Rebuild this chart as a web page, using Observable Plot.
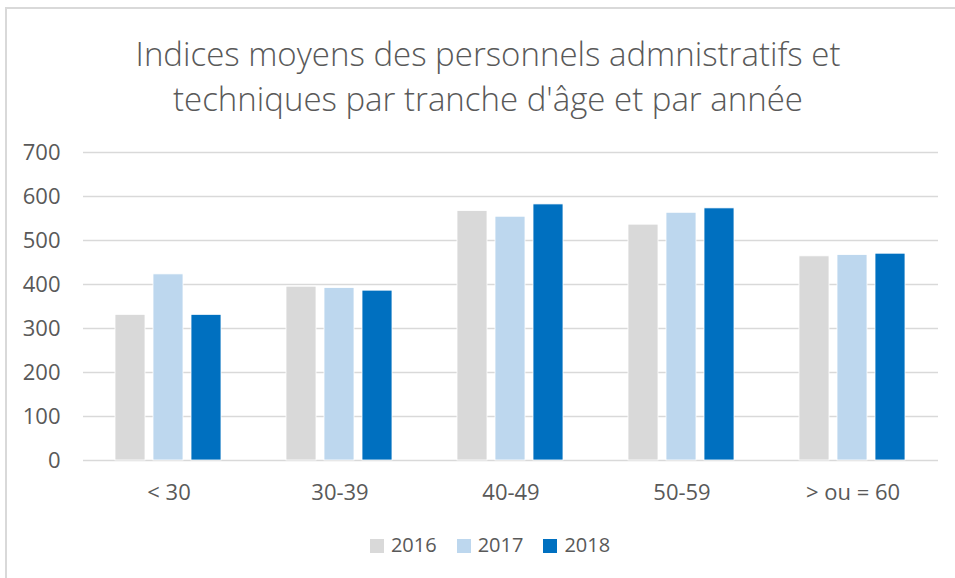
<!DOCTYPE html>
<html>
<head>
<meta charset="utf-8">
<script src="https://cdn.jsdelivr.net/npm/d3@7"></script>
<script src="https://cdn.jsdelivr.net/npm/@observablehq/plot@0.6"></script>
<style>
  html, body { margin: 0; padding: 0; background: #fff; }
  #frame { position: relative; width: 955px; height: 578px; overflow: hidden; font-family: "Open Sans", sans-serif; color: #595959; }
  #border { position: absolute; left: 5px; top: 7px; width: 960px; height: 600px; border-left: 2px solid #D9D9D9; border-top: 2px solid #D9D9D9; box-sizing: border-box; }
  #title { position: absolute; left: 0; width: 976px; top: 31px; text-align: center; font-size: 33px; font-weight: 300; line-height: 45px; color: #595959; }
  #chart { position: absolute; left: 0; top: 130px; }
  #chart svg text { font-family: "Open Sans", sans-serif !important; font-size: 22px !important; fill: #595959; }
  #legend { position: absolute; top: 531px; left: 0; width: 980px; text-align: center; font-size: 20px; color: #595959; }
  #legend span.item { display: inline-block; margin: 0 10px; }
  #legend span.sw { display: inline-block; width: 14px; height: 14px; margin-right: 7px; vertical-align: -1px; }
</style>
</head>
<body>
<div id="frame">
  <div id="border"></div>
  <div id="title">Indices moyens des personnels admnistratifs et<br>techniques par tranche d'âge et par année</div>
  <div id="chart"></div>
  <div id="legend"></div>
</div>
<script>
const categories = ["< 30", "30-39", "40-49", "50-59", "> ou = 60"];
const years = ["2016", "2017", "2018"];
const values2016 = [331, 395, 567, 536, 464];
const values2017 = [423, 392, 554, 563, 467];
const values2018 = [331, 386, 582, 573, 470];
const yTicks = [0, 100, 200, 300, 400, 500, 600, 700];
const colors = ["#D9D9D9", "#BDD7EE", "#0070C0"];

const series = [values2016, values2017, values2018];
const data = [];
categories.forEach((c, i) => {
  years.forEach((y, j) => data.push({cat: c, year: y, value: series[j][i]}));
});

const chart = Plot.plot({
  width: 955,
  height: 380,
  marginLeft: 83,
  marginRight: 17,
  marginTop: 22,
  marginBottom: 50,
  style: { fontFamily: "Open Sans, sans-serif", fontSize: "22px", color: "#595959", background: "transparent" },
  fx: { domain: categories, padding: 0, label: null, axis: "bottom", tickSize: 0, tickPadding: 24 },
  x: { domain: years, paddingInner: 0.2, paddingOuter: 0.85, axis: null },
  y: { domain: [0, 700], ticks: yTicks, tickSize: 0, tickPadding: 23, label: null, tickFormat: d => String(d) },
  color: { domain: years, range: colors },
  marks: [
    Plot.ruleY(yTicks, { stroke: "#D9D9D9", strokeWidth: 1.4 }),
    Plot.barY(data, { fx: "cat", x: "year", y: "value", fill: "year", stroke: "#ffffff", strokeWidth: 0.8 })
  ]
});
document.getElementById("chart").appendChild(chart);

const legend = document.getElementById("legend");
years.forEach((y, j) => {
  const item = document.createElement("span");
  item.className = "item";
  const sw = document.createElement("span");
  sw.className = "sw";
  sw.style.background = colors[j];
  item.appendChild(sw);
  item.appendChild(document.createTextNode(y));
  legend.appendChild(item);
});
</script>
</body>
</html>
